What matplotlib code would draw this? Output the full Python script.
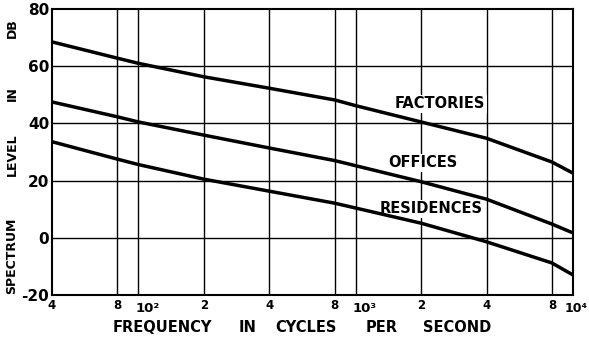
import numpy as np
import matplotlib
matplotlib.use("Agg")
import matplotlib.pyplot as plt
from matplotlib.transforms import offset_copy

# frequency points (cycles per second) and spectrum levels (db)
freqs = [40, 80, 100, 200, 400, 800, 1000, 2000, 4000, 8000, 10000]
factories = [68.5, 62.8, 61.0, 56.3, 52.3, 48.2, 46.2, 40.5, 34.8, 26.5, 22.6]
offices = [47.5, 42.3, 40.5, 35.9, 31.4, 27.0, 25.2, 19.6, 13.5, 4.8, 1.7]
residences = [33.6, 27.5, 25.6, 20.5, 16.3, 12.1, 10.4, 5.1, -1.4, -8.8, -13.0]

x_ticks = [40, 80, 100, 200, 400, 800, 1000, 2000, 4000, 8000, 10000]
x_tick_labels = ["4", "8", "10\u00b2", "2", "4", "8", "10\u00b3", "2", "4", "8", "10\u2074"]
y_ticks = [-20, 0, 20, 40, 60, 80]

x_words = ["FREQUENCY", "IN", "CYCLES", "PER", "SECOND"]
x_word_pos = [0.211, 0.376, 0.4875, 0.633, 0.777]
y_words = ["SPECTRUM", "LEVEL", "IN", "DB"]
y_word_pos = [0.136, 0.49, 0.703, 0.934]

plt.rcParams["font.family"] = "DejaVu Sans"
plt.rcParams["font.weight"] = "bold"

fig = plt.figure(figsize=(5.89, 3.40), dpi=100)
ax = fig.add_axes([0.0883, 0.1324, 0.8845, 0.8411])

ax.set_xscale("log")
ax.set_xlim(40, 10000)
ax.set_ylim(-20, 80)

for f in x_ticks[1:-1]:
    ax.axvline(f, color="black", lw=1.0, zorder=1)
for v in y_ticks[1:-1]:
    ax.axhline(v, color="black", lw=1.0, zorder=1)

for series in (factories, offices, residences):
    ax.plot(freqs, series, color="black", lw=2.5, solid_capstyle="butt", zorder=3)

box = dict(facecolor="white", edgecolor="none", pad=1.0)
ax.text(2450, 46.8, "FACTORIES", ha="center", va="center", fontsize=10.5, bbox=box, zorder=2)
ax.text(2030, 26.2, "OFFICES", ha="center", va="center", fontsize=10.5, bbox=box, zorder=2)
ax.text(2230, 10.1, "RESIDENCES", ha="center", va="center", fontsize=10.5, bbox=box, zorder=2)

ax.minorticks_off()
ax.set_xticks([])
ax.set_yticks(y_ticks)
ax.set_yticklabels([str(v) for v in y_ticks], fontsize=11)
ax.tick_params(length=0, pad=2)

# x tick labels: plain digits centred, powers of ten set just right of the line
xt = ax.get_xaxis_transform()
for f, lab in zip(x_ticks, x_tick_labels):
    if f == 10000:
        tr = offset_copy(xt, fig=fig, x=15, y=-3, units="dots")
        ax.text(f, -0.015, lab, transform=tr, ha="right", va="top", fontsize=9)
    elif lab.startswith("10"):
        tr = offset_copy(xt, fig=fig, x=-3, y=-3, units="dots")
        ax.text(f, -0.015, lab, transform=tr, ha="left", va="top", fontsize=9.5)
    else:
        ax.text(f, -0.015, lab, transform=xt, ha="center", va="top", fontsize=8.5)

for word, pos in zip(x_words, x_word_pos):
    ax.text(pos, -0.112, word, transform=ax.transAxes, ha="center", va="center", fontsize=10.5)
for word, pos in zip(y_words, y_word_pos):
    ax.text(-0.077, pos, word, transform=ax.transAxes, ha="center", va="center",
            rotation=90, fontsize=9)

for s in ax.spines.values():
    s.set_linewidth(1.5)

fig.savefig("out.png", dpi=100)
